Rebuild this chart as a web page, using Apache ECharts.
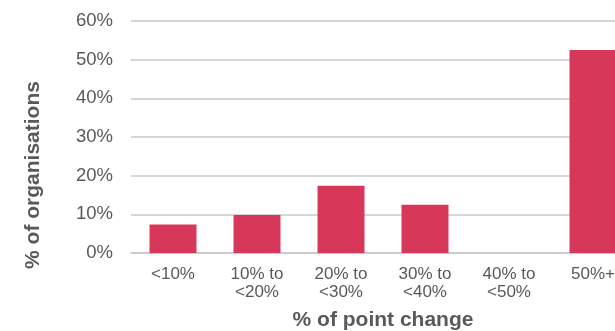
<!DOCTYPE html>
<html>
<head>
<meta charset="utf-8">
<script src="https://cdn.jsdelivr.net/npm/echarts@6/dist/echarts.min.js"></script>
<style>
  html, body { margin: 0; padding: 0; background: #fff; overflow: hidden; }
  /* the plot runs a little past the right edge of the window */
  #chart { width: 635px; height: 331px; }
</style>
</head>
<body>
<div id="chart"></div>
<script>
// Share of organisations by size of point change
const categories = ['<10%', '10% to\n<20%', '20% to\n<30%', '30% to\n<40%', '40% to\n<50%', '50%+'];
const shares = [7.4, 9.8, 17.4, 12.5, 0, 52.5];
const yTicks = [0, 10, 20, 30, 40, 50, 60];

const textColor = '#595959';
const font = '"Liberation Sans", Arial, sans-serif';

const chart = echarts.init(document.getElementById('chart'), null, { renderer: 'canvas' });
chart.setOption({
  animation: false,
  backgroundColor: '#ffffff',
  grid: { left: 131, right: 0, top: 21, bottom: 78, containLabel: false, outerBoundsMode: 'none' },
  xAxis: {
    type: 'category',
    data: categories,
    name: '% of point change',
    nameLocation: 'middle',
    nameGap: 57,
    nameTextStyle: { color: textColor, fontFamily: font, fontSize: 21, fontWeight: 'bold' },
    axisLine: { show: true, lineStyle: { color: '#c8c8c8', width: 1.5 } },
    axisTick: { show: false },
    axisLabel: { color: textColor, fontFamily: font, fontSize: 17, lineHeight: 18, margin: 12, interval: 0 }
  },
  yAxis: {
    type: 'value',
    min: yTicks[0],
    max: yTicks[yTicks.length - 1],
    interval: 10,
    name: '% of organisations',
    nameLocation: 'middle',
    nameGap: 87,
    // extra trailing padding nudges the rotated title down towards the baseline
    nameTextStyle: { color: textColor, fontFamily: font, fontSize: 21, fontWeight: 'bold', padding: [0, 76, 0, 0] },
    axisLine: { show: false },
    axisTick: { show: false },
    axisLabel: { color: textColor, fontFamily: font, fontSize: 18.5, margin: 18, formatter: v => v + '%' },
    splitLine: { lineStyle: { color: '#c8c8c8', width: 1.5 } }
  },
  series: [{
    type: 'bar',
    data: shares,
    barWidth: 47,
    itemStyle: { color: '#d7385a' }
  }]
});
</script>
</body>
</html>
